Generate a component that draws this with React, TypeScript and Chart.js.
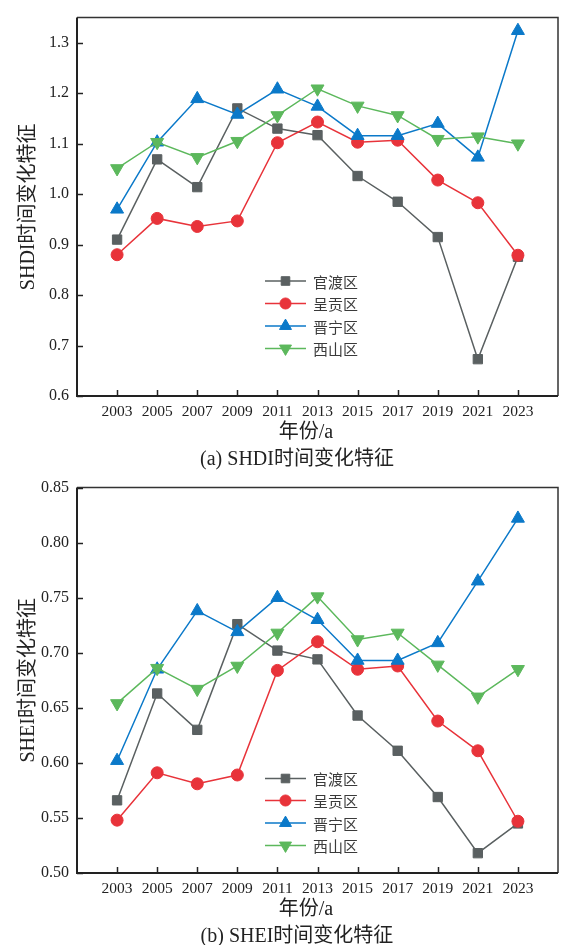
import React, { useEffect, useRef } from 'react';
import { Chart, registerables } from 'chart.js';
import { drawPoint } from 'chart.js/helpers';

Chart.register(...registerables);

// ---------- data ----------
const years = [2003, 2005, 2007, 2009, 2011, 2013, 2015, 2017, 2019, 2021, 2023];
const seriesNames = ['官渡区', '呈贡区', '晋宁区', '西山区'];

const shdiGuandu = [0.910, 1.069, 1.014, 1.170, 1.130, 1.117, 1.036, 0.985, 0.915, 0.673, 0.876];
const shdiChenggong = [0.880, 0.952, 0.936, 0.947, 1.102, 1.143, 1.103, 1.107, 1.028, 0.983, 0.879];
const shdiJinning = [0.970, 1.103, 1.189, 1.158, 1.208, 1.174, 1.116, 1.116, 1.140, 1.073, 1.324];
const shdiXishan = [1.051, 1.103, 1.073, 1.105, 1.156, 1.209, 1.175, 1.156, 1.109, 1.114, 1.100];

const sheiGuandu = [0.566, 0.663, 0.630, 0.726, 0.702, 0.694, 0.643, 0.611, 0.569, 0.518, 0.545];
const sheiChenggong = [0.548, 0.591, 0.581, 0.589, 0.684, 0.710, 0.685, 0.688, 0.638, 0.611, 0.547];
const sheiJinning = [0.602, 0.685, 0.738, 0.719, 0.750, 0.730, 0.693, 0.693, 0.709, 0.765, 0.822];
const sheiXishan = [0.654, 0.686, 0.667, 0.688, 0.718, 0.751, 0.712, 0.718, 0.689, 0.660, 0.685];

const shdiTicks = [0.6, 0.7, 0.8, 0.9, 1.0, 1.1, 1.2, 1.3];
const sheiTicks = [0.5, 0.55, 0.6, 0.65, 0.7, 0.75, 0.8, 0.85];

// ---------- styles ----------
const SERIF = "'Liberation Serif', 'Times New Roman', 'Noto Sans CJK SC', serif";
const CJK = "'Noto Sans CJK SC', 'Liberation Serif', sans-serif";
const TEXT = '#222';

const seriesStyles = [
  { color: '#5a6061', pointStyle: 'rect', rotation: 0, radius: 6.6 },
  { color: '#e8333a', pointStyle: 'circle', rotation: 0, radius: 6 },
  { color: '#0b79c9', pointStyle: 'triangle', rotation: 0, radius: 7.5 },
  { color: '#5cb85c', pointStyle: 'triangle', rotation: 180, radius: 7.5 },
];

const framePlugin = {
  id: 'frameTicks',
  afterDatasetsDraw(chart: any) {
    const { ctx, chartArea } = chart;
    const { left, right, top, bottom } = chartArea;
    ctx.save();
    ctx.lineCap = 'butt';
    ctx.strokeStyle = '#333';
    ctx.lineWidth = 1.5;
    ctx.beginPath();
    ctx.moveTo(left, top);
    ctx.lineTo(right, top);
    ctx.lineTo(right, bottom);
    ctx.stroke();
    ctx.strokeStyle = '#222';
    ctx.lineWidth = 2;
    ctx.beginPath();
    ctx.moveTo(left, top);
    ctx.lineTo(left, bottom);
    ctx.lineTo(right, bottom);
    ctx.stroke();
    ctx.lineWidth = 1.5;
    const xs = chart.scales.x;
    xs.ticks.forEach((t: any) => {
      const px = Math.round(xs.getPixelForValue(t.value)) + 0.5;
      ctx.beginPath();
      ctx.moveTo(px, bottom);
      ctx.lineTo(px, bottom - 6);
      ctx.stroke();
    });
    const ys = chart.scales.y;
    ys.ticks.forEach((t: any) => {
      const py = Math.round(ys.getPixelForValue(t.value)) + 0.5;
      ctx.beginPath();
      ctx.moveTo(left, py);
      ctx.lineTo(left + 6, py);
      ctx.stroke();
    });
    ctx.restore();
  },
};

const legendPlugin = {
  id: 'innerLegend',
  afterDatasetsDraw(chart: any, _args: any, opts: any) {
    const { ctx } = chart;
    ctx.save();
    chart.data.datasets.forEach((ds: any, i: number) => {
      const y = opts.rows[i];
      const x0 = opts.x;
      const x1 = opts.x + opts.lineLen;
      ctx.strokeStyle = ds.borderColor;
      ctx.lineWidth = 1.5;
      ctx.beginPath();
      ctx.moveTo(x0, y);
      ctx.lineTo(x1, y);
      ctx.stroke();
      ctx.fillStyle = ds.pointBackgroundColor;
      ctx.strokeStyle = ds.pointBorderColor;
      ctx.lineWidth = 1;
      drawPoint(ctx, {
        pointStyle: ds.pointStyle,
        rotation: ds.pointRotation,
        radius: ds.pointRadius * 0.92,
        borderWidth: 1,
      } as any, (x0 + x1) / 2, y);
      ctx.fillStyle = '#3a3a3a';
      ctx.font = `15px ${CJK}`;
      ctx.textAlign = 'left';
      ctx.textBaseline = 'middle';
      ctx.fillText(ds.label, x1 + 7, y + 1);
    });
    ctx.restore();
  },
};

function buildConfig(p: any) {
  const datasets = p.series.map((vals: number[], i: number) => {
    const s = seriesStyles[i];
    return {
      label: seriesNames[i],
      data: years.map((yr, k) => ({ x: yr, y: vals[k] })),
      borderColor: s.color,
      backgroundColor: s.color,
      borderWidth: 1.5,
      pointStyle: s.pointStyle,
      pointRotation: s.rotation,
      pointRadius: s.radius,
      pointBackgroundColor: s.color,
      pointBorderColor: s.color,
      pointBorderWidth: 1,
      tension: 0,
      order: 10 - i,
    };
  });
  return {
    type: 'line',
    data: { datasets },
    plugins: [framePlugin, legendPlugin],
    options: {
      responsive: false,
      animation: false,
      events: [],
      layout: { padding: { top: p.padTop, right: 9, left: 0, bottom: 0 } },
      plugins: {
        legend: { display: false },
        tooltip: { enabled: false },
        innerLegend: { x: 265, lineLen: 41, rows: p.legendRows },
      },
      scales: {
        x: {
          type: 'linear',
          min: 2001,
          max: 2025,
          afterBuildTicks: (s: any) => { s.ticks = years.map((v) => ({ value: v })); },
          afterFit: (s: any) => { s.height = p.xHeight; },
          grid: { display: false, drawTicks: false },
          border: { display: false },
          ticks: {
            autoSkip: false,
            maxRotation: 0,
            padding: 7,
            color: TEXT,
            font: { family: SERIF, size: 15.5 },
            callback: (v: any) => String(v),
          },
        },
        y: {
          type: 'linear',
          min: p.yMin,
          max: p.yMax,
          afterBuildTicks: (s: any) => { s.ticks = p.yTicks.map((v: number) => ({ value: v })); },
          afterFit: (s: any) => { s.width = 77; },
          grid: { display: false, drawTicks: false },
          border: { display: false },
          ticks: {
            autoSkip: false,
            padding: 8,
            color: TEXT,
            font: { family: SERIF, size: 16 },
            callback: (v: any) => Number(v).toFixed(p.decimals),
          },
          title: {
            display: true,
            text: p.yTitle,
            color: TEXT,
            font: { family: SERIF, size: 20 },
            padding: { top: 17, bottom: 0 },
          },
        },
      },
    },
  };
}

const panels = [
  {
    top: 0, h: 440, padTop: 7, xHeight: 44,
    yMin: 0.6, yMax: 1.35, yTicks: shdiTicks, decimals: 1,
    yTitle: 'SHDI时间变化特征',
    series: [shdiGuandu, shdiChenggong, shdiJinning, shdiXishan],
    legendRows: [281, 303.5, 326, 348.5],
    xTitleY: 431, captionY: 458, caption: '(a) SHDI时间变化特征',
  },
  {
    top: 470, h: 445, padTop: 13, xHeight: 42,
    yMin: 0.5, yMax: 0.85, yTicks: sheiTicks, decimals: 2,
    yTitle: 'SHEI时间变化特征',
    series: [sheiGuandu, sheiChenggong, sheiJinning, sheiXishan],
    legendRows: [308.5, 330.5, 353, 375.5],
    xTitleY: 908, captionY: 935, caption: '(b) SHEI时间变化特征',
  },
];

function Panel({ p }: { p: any }) {
  const ref = useRef<HTMLCanvasElement>(null);
  useEffect(() => {
    const chart = new Chart(ref.current as HTMLCanvasElement, buildConfig(p) as any);
    return () => chart.destroy();
  }, []);
  const textStyle = (cx: number, cy: number): React.CSSProperties => ({
    position: 'absolute',
    left: cx - 150,
    top: cy - 12,
    width: 300,
    height: 24,
    lineHeight: '24px',
    textAlign: 'center',
    fontFamily: SERIF,
    fontSize: 20,
    color: TEXT,
    whiteSpace: 'nowrap',
  });
  return (
    <>
      <canvas
        ref={ref}
        width={567}
        height={p.h}
        style={{ position: 'absolute', left: 0, top: p.top, width: 567, height: p.h }}
      />
      <div style={textStyle(306, p.xTitleY)}>年份/a</div>
      <div style={textStyle(297, p.captionY)}>{p.caption}</div>
    </>
  );
}

export default function App() {
  return (
    <div style={{ position: 'absolute', left: 0, top: 0, width: 567, height: 945, background: '#fff', overflow: 'hidden' }}>
      {panels.map((p, i) => <Panel key={i} p={p} />)}
    </div>
  );
}
